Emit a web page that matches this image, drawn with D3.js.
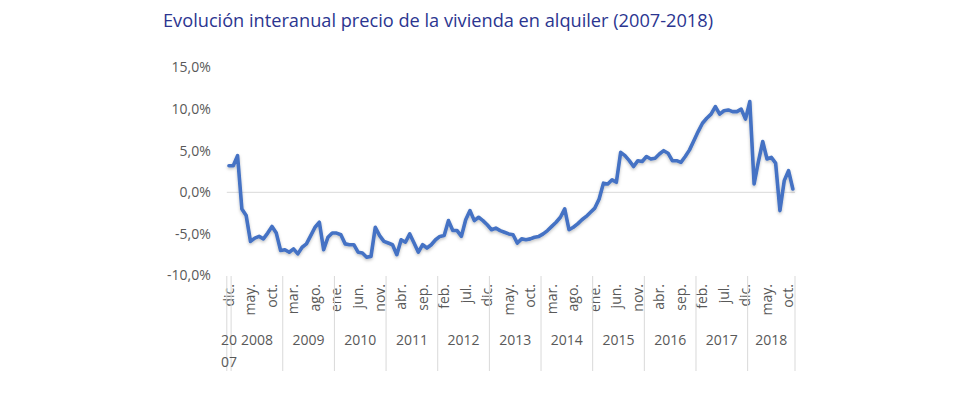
<!DOCTYPE html>
<html>
<head>
<meta charset="utf-8">
<script src="https://cdn.jsdelivr.net/npm/d3@7"></script>
<style>
  body { margin: 0; background: #fff; }
  svg { display: block; font-family: "Open Sans", sans-serif; }
</style>
</head>
<body>
<svg id="chart" width="980" height="399"></svg>
<script>
const title = "Evolución interanual precio de la vivienda en alquiler (2007-2018)";

const monthAbbr = ["ene.", "feb.", "mar.", "abr.", "may.", "jun.", "jul.", "ago.", "sep.", "oct.", "nov.", "dic."];
const years = ["2007", "2008", "2009", "2010", "2011", "2012", "2013", "2014", "2015", "2016", "2017", "2018"];
const yTicks = [-10, -5, 0, 5, 10, 15];

// variación interanual (%), dic. 2007 - nov. 2018
const values = [
  3.2,
  3.2, 4.4, -2.0, -2.8, -5.9, -5.5, -5.3, -5.6, -4.9, -4.1, -4.9, -7.0,
  -6.9, -7.2, -6.8, -7.4, -6.6, -6.2, -5.2, -4.2, -3.6, -6.9, -5.4, -4.9,
  -4.9, -5.1, -6.2, -6.3, -6.3, -7.2, -7.3, -7.8, -7.7, -4.2, -5.2, -5.9,
  -6.1, -6.3, -7.5, -5.7, -6.0, -5.0, -6.1, -7.2, -6.3, -6.7, -6.3, -5.7,
  -5.3, -5.2, -3.4, -4.6, -4.6, -5.3, -3.3, -2.2, -3.4, -3.0, -3.4, -3.9,
  -4.5, -4.3, -4.6, -4.8, -5.0, -5.1, -6.1, -5.6, -5.7, -5.6, -5.4, -5.3,
  -5.0, -4.6, -4.1, -3.6, -3.0, -2.0, -4.5, -4.2, -3.8, -3.3, -2.9, -2.4,
  -1.9, -0.8, 1.1, 1.0, 1.5, 1.2, 4.8, 4.4, 3.8, 3.1, 3.8, 3.7,
  4.3, 4.0, 4.1, 4.6, 5.0, 4.7, 3.8, 3.8, 3.6, 4.3, 5.1, 6.2,
  7.3, 8.3, 8.9, 9.4, 10.3, 9.4, 9.8, 9.9, 9.7, 9.7, 10.0, 8.8,
  10.9, 1.0, 3.7, 6.1, 4.0, 4.2, 3.5, -2.2, 1.4, 2.6, 0.4
];

// categorías: mes y año de cada punto, empezando en dic. 2007
const categories = values.map((v, i) => {
  const m = (11 + i) % 12;
  const yr = years[Math.floor((11 + i) / 12)];
  return { idx: i, month: monthAbbr[m], year: yr };
});

const svg = d3.select("#chart");
const plotLeft = 226.8, plotRight = 795, plotTop = 67.5, plotBottom = 275.5;

const x = d3.scaleBand().domain(categories.map(d => d.idx)).range([plotLeft, plotRight]).padding(0);
const y = d3.scaleLinear().domain([-10, 15]).range([plotBottom, plotTop]);

const locale = d3.formatLocale({ decimal: ",", thousands: ".", grouping: [3], currency: ["", "€"], minus: "-" });
const fmt = locale.format(".1f");

svg.append("text")
  .attr("x", 163)
  .attr("y", 27)
  .attr("fill", "#2b3590")
  .style("font-size", "18.2px")
  .text(title);

// eje y
const yAxis = d3.axisLeft(y).tickValues(yTicks).tickSize(0).tickPadding(16).tickFormat(d => fmt(d) + "%");
svg.append("g")
  .attr("transform", `translate(${plotLeft},0)`)
  .call(yAxis)
  .call(g => g.select(".domain").remove())
  .call(g => g.selectAll("text").attr("fill", "#595959").style("font-size", "14px").style("font-family", "Open Sans"));

// linea del cero
svg.append("line")
  .attr("x1", plotLeft).attr("x2", plotRight)
  .attr("y1", y(0)).attr("y2", y(0))
  .attr("stroke", "#d9d9d9").attr("stroke-width", 1);

// etiquetas de meses (cada 5)
const monthTicks = categories.filter(d => d.idx % 5 === 0);
svg.append("g").selectAll("text")
  .data(monthTicks)
  .join("text")
  .attr("transform", d => `translate(${x(d.idx) + x.bandwidth() / 2},284) rotate(-90)`)
  .attr("text-anchor", "end")
  .attr("dy", "0.35em")
  .attr("fill", "#595959")
  .style("font-size", "14px")
  .text(d => d.month);

// grupos de años
const groups = d3.groups(categories, d => d.year).map(([yr, arr]) => ({
  year: yr,
  x0: x(arr[0].idx),
  x1: x(arr[arr.length - 1].idx) + x.bandwidth()
}));

const sep = [plotLeft].concat(groups.map(g => g.x1));
svg.append("g").selectAll("line")
  .data(sep)
  .join("line")
  .attr("x1", d => d).attr("x2", d => d)
  .attr("y1", 276).attr("y2", 371)
  .attr("stroke", "#d9d9d9").attr("stroke-width", 1);

const yl = svg.append("g").selectAll("text")
  .data(groups)
  .join("text")
  .attr("x", d => (d.x0 + d.x1) / 2)
  .attr("y", 345)
  .attr("text-anchor", "middle")
  .attr("fill", "#595959")
  .style("font-size", "14px");
yl.each(function (d) {
  const t = d3.select(this);
  if (d.x1 - d.x0 < 20) {
    t.append("tspan").attr("x", (d.x0 + d.x1) / 2).text(d.year.slice(0, 2));
    t.append("tspan").attr("x", (d.x0 + d.x1) / 2).attr("dy", 22).text(d.year.slice(2));
  } else {
    t.text(d.year);
  }
});

// sombra suave
const defs = svg.append("defs");
defs.append("filter").attr("id", "shadow").attr("x", "-5%").attr("y", "-5%").attr("width", "110%").attr("height", "120%")
  .append("feDropShadow")
  .attr("dx", 0).attr("dy", 1.5).attr("stdDeviation", 1.5)
  .attr("flood-color", "#000").attr("flood-opacity", 0.25);

const line = d3.line()
  .x((d, i) => x(i) + x.bandwidth() / 2)
  .y(d => y(d));

svg.append("path")
  .datum(values)
  .attr("d", line)
  .attr("fill", "none")
  .attr("stroke", "#4472c4")
  .attr("stroke-width", 3.6)
  .attr("stroke-linejoin", "round")
  .attr("stroke-linecap", "round")
  .attr("filter", "url(#shadow)");
</script>
</body>
</html>
